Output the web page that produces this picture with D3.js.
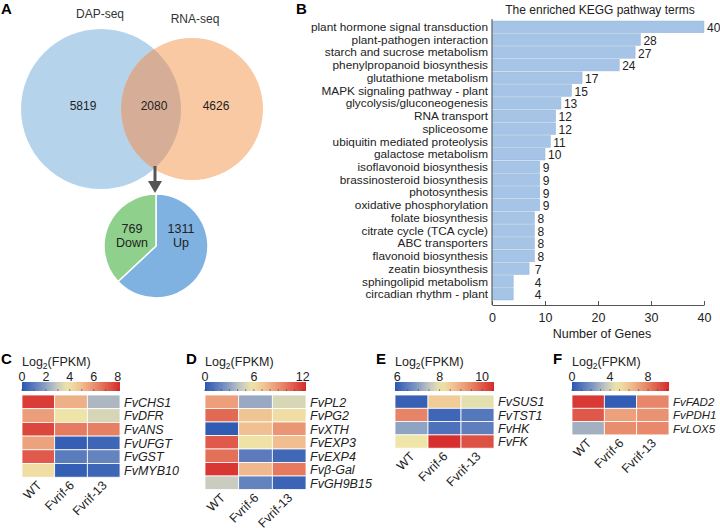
<!DOCTYPE html>
<html>
<head>
<meta charset="utf-8">
<script src="https://cdn.jsdelivr.net/npm/d3@7"></script>
<style>
  body { margin: 0; background: #fff; }
  svg { font-family: Arial, "Liberation Sans", sans-serif; }
</style>
</head>
<body>
<svg id="fig" width="720" height="528"></svg>
<script>
// ---- data ----
var vennSets = ["DAP-seq", "RNA-seq"];
var vennCounts = [5819, 2080, 4626];   // only DAP, both, only RNA
var pieLabels = ["Up", "Down"];
var pieValues = [1311, 769];

var keggTerms = ["plant hormone signal transduction", "plant-pathogen interaction",
  "starch and sucrose metabolism", "phenylpropanoid biosynthesis", "glutathione metabolism",
  "MAPK signaling pathway - plant", "glycolysis/gluconeogenesis", "RNA transport",
  "spliceosome", "ubiquitin mediated proteolysis", "galactose metabolism",
  "isoflavonoid biosynthesis", "brassinosteroid biosynthesis", "photosynthesis",
  "oxidative phosphorylation", "folate biosynthesis", "citrate cycle (TCA cycle)",
  "ABC transporters", "flavonoid biosynthesis", "zeatin biosynthesis",
  "sphingolipid metabolism", "circadian rhythm - plant"];
var keggGenes = [40, 28, 27, 24, 17, 15, 13, 12, 12, 11, 10, 9, 9, 9, 9, 8, 8, 8, 8, 7, 4, 4];
var keggTicks = [0, 10, 20, 30, 40];

var samples = ["WT", "Fvrif-6", "Fvrif-13"];

var genesC = ["FvCHS1", "FvDFR", "FvANS", "FvUFGT", "FvGST", "FvMYB10"];
var valuesC = [[7.8, 5.3, 2.5], [5.7, 3.9, 3.3], [7.6, 6.5, 6.4],
               [5.6, 0.2, 0.4], [7.2, 1.0, 1.2], [4.1, 0.2, 0.4]];
var ticksC = [0, 2, 4, 6, 8];

var genesD = ["FvPL2", "FvPG2", "FvXTH", "FvEXP3", "FvEXP4", "Fvβ-Gal", "FvGH9B15"];
var valuesD = [[8.6, 3.3, 5.0], [10.4, 7.2, 6.2], [0.2, 7.4, 8.9], [10.9, 6.0, 7.5],
               [10.2, 1.5, 0.7], [12.0, 7.7, 9.9], [4.5, 1.8, 0.5]];
var ticksD = [0, 6, 12];

var genesE = ["FvSUS1", "FvTST1", "FvHK", "FvFK"];
var valuesE = [[6.05, 8.5, 7.95], [9.5, 6.15, 6.4], [7.05, 6.3, 6.5], [8.1, 10.5, 10.1]];
var ticksE = [6, 8, 10];

var genesF = ["FvFAD2", "FvPDH1", "FvLOX5"];
var valuesF = [[9.8, 0.2, 7.8], [9.0, 7.0, 7.4], [2.9, 7.6, 7.7]];
var ticksF = [0, 4, 8];

// ---- setup ----
var svg = d3.select("#fig");
var defs = svg.append("defs");

function panelLetter(t, x, y) {
  svg.append("text").attr("x", x).attr("y", y)
    .attr("font-size", 15).attr("font-weight", "bold").text(t);
}

// ---- A: venn + pie ----
panelLetter("A", 1, 14);

var circles = [{cx: 101, cy: 109, r: 80, fill: "#b5d4ec"},
               {cx: 192, cy: 109, r: 71, fill: "#f9c9a3"}];

defs.append("clipPath").attr("id", "clipDap")
  .append("circle").attr("cx", circles[0].cx).attr("cy", circles[0].cy).attr("r", circles[0].r);

svg.selectAll(".venn").data(circles).enter().append("circle")
  .attr("cx", function(d) { return d.cx; })
  .attr("cy", function(d) { return d.cy; })
  .attr("r", function(d) { return d.r; })
  .attr("fill", function(d) { return d.fill; });

// overlap lens
svg.append("circle")
  .attr("cx", circles[1].cx).attr("cy", circles[1].cy).attr("r", circles[1].r)
  .attr("fill", "#d6ad97").attr("clip-path", "url(#clipDap)");

svg.selectAll(".vennLab").data(vennSets).enter().append("text")
  .attr("x", function(d, i) { return i == 0 ? 100 : 195; })
  .attr("y", function(d, i) { return i == 0 ? 18 : 23; })
  .attr("text-anchor", "middle").attr("font-size", 12).attr("fill", "#333")
  .text(function(d) { return d; });

var countX = [83, 154, 216];
svg.selectAll(".vennNum").data(vennCounts).enter().append("text")
  .attr("x", function(d, i) { return countX[i]; })
  .attr("y", 110)
  .attr("text-anchor", "middle").attr("font-size", 12).attr("fill", "#222")
  .text(function(d) { return d; });

// arrow
svg.append("line").attr("x1", 155).attr("y1", 166).attr("x2", 155).attr("y2", 183)
  .attr("stroke", "#555").attr("stroke-width", 3);
svg.append("path").attr("d", "M148,181 L162,181 L155,193 Z").attr("fill", "#555");

// pie
var pie = d3.pie().sort(null).value(function(d) { return d; });
var arc = d3.arc().innerRadius(0).outerRadius(52);
var pieColors = ["#7fb1e1", "#8fd08c"];
var pg = svg.append("g").attr("transform", "translate(156,246)");
pg.selectAll("path").data(pie(pieValues)).enter().append("path")
  .attr("d", arc)
  .attr("fill", function(d, i) { return pieColors[i]; })
  .attr("stroke", "#fff").attr("stroke-width", 1.5);

var pieLabX = [25, -24];
pieValues.forEach(function(v, i) {
  pg.append("text").attr("x", pieLabX[i]).attr("y", -13)
    .attr("text-anchor", "middle").attr("font-size", 12.5).attr("fill", "#222").text(v);
  pg.append("text").attr("x", pieLabX[i]).attr("y", 1)
    .attr("text-anchor", "middle").attr("font-size", 12.5).attr("fill", "#222").text(pieLabels[i]);
});

// ---- B: KEGG bar chart ----
panelLetter("B", 296, 14);

var xB = d3.scaleLinear().domain([0, 40]).range([492, 704]);
var yB = d3.scaleBand().domain(keggTerms).range([20, 301]).padding(0.08);

svg.append("text").attr("x", 600).attr("y", 14).attr("text-anchor", "middle")
  .attr("font-size", 12).attr("fill", "#222").text("The enriched KEGG pathway terms");

var gB = svg.append("g");
gB.selectAll("rect").data(keggGenes).enter().append("rect")
  .attr("x", xB(0))
  .attr("y", function(d, i) { return yB(keggTerms[i]); })
  .attr("width", function(d) { return xB(d) - xB(0); })
  .attr("height", yB.bandwidth())
  .attr("fill", "#a6c4e5")
  .attr("stroke", "#94b5dc").attr("stroke-width", 0.5);

gB.selectAll(".term").data(keggTerms).enter().append("text")
  .attr("x", xB(0) - 4)
  .attr("y", function(d) { return yB(d) + yB.bandwidth() / 2; })
  .attr("dy", "0.35em").attr("text-anchor", "end")
  .attr("font-size", 11.8).attr("fill", "#222")
  .text(function(d) { return d; });

gB.selectAll(".val").data(keggGenes).enter().append("text")
  .attr("x", function(d) { return xB(Math.max(d, 7.5)) + 3; })
  .attr("y", function(d, i) { return yB(keggTerms[i]) + yB.bandwidth() / 2 + 1; })
  .attr("dy", "0.35em")
  .attr("font-size", 12).attr("fill", "#222")
  .text(function(d) { return d; });

var axB = svg.append("g").attr("transform", "translate(0,305)")
  .call(d3.axisBottom(xB).tickValues(keggTicks).tickSizeInner(-4).tickSizeOuter(0).tickPadding(8));
axB.select(".domain").attr("stroke", "#555");
axB.selectAll(".tick line").attr("stroke", "#555");
axB.selectAll("text").attr("font-size", 12.5).attr("fill", "#222").attr("font-family", null);

svg.append("line").attr("x1", xB(0)).attr("x2", xB(0)).attr("y1", 19).attr("y2", 305)
  .attr("stroke", "#555");

svg.append("text").attr("x", 602).attr("y", 338).attr("text-anchor", "middle")
  .attr("font-size", 12.5).attr("fill", "#222").text("Number of Genes");

// ---- C-F: heatmaps ----
var heat = d3.scaleLinear()
  .domain([0, 0.22, 0.36, 0.47, 0.62, 0.8, 1])
  .range(["#2b57b3", "#8299c4", "#c8cbc0", "#efe6a8", "#f0b98d", "#e5795f", "#d62a2a"])
  .clamp(true);

function heatmap(id, letter, lx, genes, values, ticks, dom, x0, x1, rowH, fs) {
  var top = 395;
  panelLetter(letter, lx, 364);

  var lab = svg.append("text").attr("x", x0).attr("y", 366).attr("font-size", 12.5).attr("fill", "#222");
  lab.append("tspan").text("Log");
  lab.append("tspan").attr("font-size", 8.5).attr("dy", 2.5).text("2");
  lab.append("tspan").attr("dy", -2.5).text("(FPKM)");

  var cb = d3.scaleLinear().domain(dom).range([x0, x1]);
  var grad = defs.append("linearGradient").attr("id", "grad" + id);
  d3.range(0, 1.001, 0.05).forEach(function(t) {
    grad.append("stop").attr("offset", t).attr("stop-color", heat(t));
  });
  svg.append("rect").attr("x", x0).attr("y", 382).attr("width", x1 - x0).attr("height", 9)
    .attr("fill", "url(#grad" + id + ")");
  svg.selectAll(".cbt" + id).data(ticks).enter().append("text")
    .attr("x", function(d) { return cb(d); })
    .attr("y", 380.5).attr("text-anchor", "middle")
    .attr("font-size", 12.5).attr("fill", "#222")
    .text(function(d) { return d; });
  // small minor ticks inside bar
  var minor = cb.ticks(10);
  svg.selectAll(".cbm" + id).data(minor).enter().append("line")
    .attr("x1", function(d) { return cb(d); }).attr("x2", function(d) { return cb(d); })
    .attr("y1", 389).attr("y2", 391).attr("stroke", "#444").attr("stroke-width", 0.6);

  var x = d3.scaleBand().domain(samples).range([x0, x1]);
  var y = d3.scaleBand().domain(genes).range([top, top + rowH * genes.length]);
  var norm = d3.scaleLinear().domain(dom).range([0, 1]);

  var cells = [];
  values.forEach(function(row, i) {
    row.forEach(function(v, j) { cells.push({g: genes[i], s: samples[j], v: v}); });
  });
  svg.append("g").selectAll("rect").data(cells).enter().append("rect")
    .attr("x", function(d) { return x(d.s); })
    .attr("y", function(d) { return y(d.g); })
    .attr("width", x.bandwidth()).attr("height", y.bandwidth())
    .attr("fill", function(d) { return heat(norm(d.v)); })
    .attr("stroke", "#fff").attr("stroke-width", 0.8);

  svg.selectAll(".gl" + id).data(genes).enter().append("text")
    .attr("x", x1 + 4)
    .attr("y", function(d) { return y(d) + y.bandwidth() / 2; })
    .attr("dy", "0.38em").attr("font-size", fs).attr("font-style", "italic").attr("fill", "#222")
    .text(function(d) { return d; });

  var bottom = top + rowH * genes.length;
  svg.selectAll(".sl" + id).data(samples).enter().append("text")
    .attr("transform", function(d) {
      return "translate(" + (x(d) + x.bandwidth() / 2 + 4) + "," + (bottom + 9) + ") rotate(-45)";
    })
    .attr("text-anchor", "end").attr("font-size", 12.5).attr("fill", "#222")
    .text(function(d) { return d; });
}

heatmap("C", "C", 1, genesC, valuesC, ticksC, [0, 8.2], 22, 120, 13.7, 12.5);
heatmap("D", "D", 186, genesD, valuesD, ticksD, [0, 12.4], 205, 306, 13.5, 12.5);
heatmap("E", "E", 376, genesE, valuesE, ticksE, [5.9, 10.56], 395, 494, 13.3, 12.5);
heatmap("F", "F", 553, genesF, valuesF, ticksF, [0, 10.2], 572, 669, 13.3, 11.5);
</script>
</body>
</html>
